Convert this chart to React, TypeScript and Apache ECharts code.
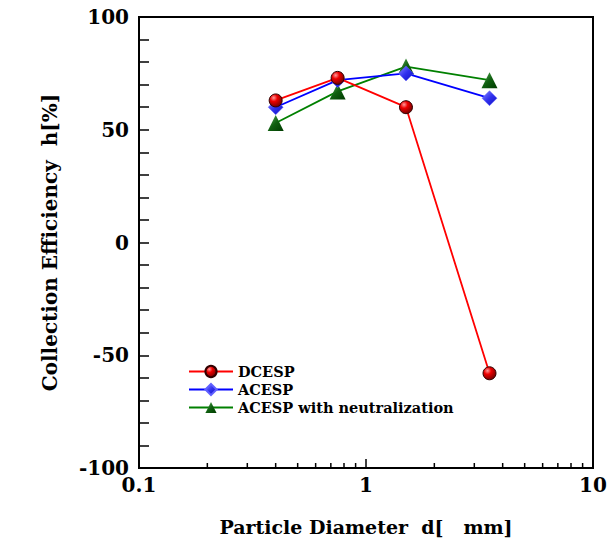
import React, { useEffect, useRef } from "react";
import * as echarts from "echarts";

const diameters = [0.4, 0.75, 1.5, 3.5];
const dcesp = [63, 73, 60, -58];
const acesp = [60, 72, 75, 64];
const acespNeutral = [53, 67, 78, 72];
const seriesNames = ["DCESP", "ACESP", "ACESP with neutralization"];
const minorXTicks = [0.2, 0.3, 0.4, 0.5, 0.6, 0.7, 0.8, 0.9, 2, 3, 4, 5, 6, 7, 8, 9];
const majorXTicks = [1];

const FONT = "DejaVu Serif";

export default function App() {
  const ref = useRef<HTMLDivElement>(null);
  useEffect(() => {
    if (!ref.current) return;
    const chart = echarts.init(ref.current, undefined, { renderer: "svg" });
    const pair = (ys: number[]) => diameters.map((x, i) => [x, ys[i]]);
    const tickSeries = (vals: number[], len: number) => ({
      type: "custom",
      silent: true,
      legendHoverLink: false,
      data: vals.map((v) => [v, -100]),
      renderItem: (params: any, api: any) => {
        const p = api.coord([api.value(0), -100]);
        return {
          type: "line",
          shape: { x1: p[0], y1: p[1], x2: p[0], y2: p[1] - len },
          style: { stroke: "#000", lineWidth: 1.5 },
        };
      },
      z: 1,
    });
    chart.setOption({
      animation: false,
      backgroundColor: "#fff",
      grid: {
        left: 139,
        top: 17,
        width: 454,
        height: 451,
        show: true,
        borderColor: "#000",
        borderWidth: 2,
        backgroundColor: "transparent",
      },
      legend: {
        left: 183,
        top: 359,
        orient: "vertical",
        itemWidth: 44,
        itemHeight: 14,
        itemGap: 3,
        data: seriesNames,
        textStyle: { fontFamily: FONT, fontWeight: "bold", fontSize: 14.5, color: "#000" },
      },
      xAxis: {
        type: "log",
        min: 0.1,
        max: 10,
        logBase: 10,
        name: "Particle Diameter  d[   mm]",
        nameLocation: "middle",
        nameGap: 49,
        nameTextStyle: { fontFamily: FONT, fontWeight: "bold", fontSize: 19, color: "#000" },
        axisLine: { show: true, onZero: false, lineStyle: { color: "#000", width: 2 } },
        axisTick: { show: false },
        splitLine: { show: false },
        minorTick: { show: false },
        axisLabel: {
          fontFamily: FONT,
          fontWeight: "bold",
          fontSize: 20,
          color: "#000",
          margin: 7,
          formatter: (v: number) => String(v),
        },
      },
      yAxis: {
        type: "value",
        min: -100,
        max: 100,
        interval: 50,
        name: "Collection Efficiency  h[%]",
        nameLocation: "middle",
        nameGap: 79,
        nameTextStyle: { fontFamily: FONT, fontWeight: "bold", fontSize: 20, color: "#000" },
        axisLine: { show: true, onZero: false, lineStyle: { color: "#000", width: 2 } },
        axisTick: { show: true, inside: true, length: 10, lineStyle: { color: "#000", width: 1.5 } },
        minorTick: { show: true, splitNumber: 5, length: 10, lineStyle: { color: "#000", width: 1.5 } },
        splitLine: { show: false },
        axisLabel: {
          fontFamily: FONT,
          fontWeight: "bold",
          fontSize: 20,
          color: "#000",
          margin: 10,
        },
      },
      series: [
        {
          name: seriesNames[0],
          type: "line",
          data: pair(dcesp),
          symbol: "circle",
          symbolSize: 13,
          lineStyle: { color: "#ff0000", width: 1.8 },
          itemStyle: {
            color: new echarts.graphic.RadialGradient(0.35, 0.3, 0.7, [
              { offset: 0, color: "#ff9a9a" },
              { offset: 0.4, color: "#ee0000" },
              { offset: 1, color: "#7a0000" },
            ]),
            borderColor: "#300000",
            borderWidth: 1,
          },
          z: 5,
        },
        {
          name: seriesNames[1],
          type: "line",
          data: pair(acesp),
          symbol: "diamond",
          symbolSize: 15,
          lineStyle: { color: "#0000ff", width: 1.8 },
          itemStyle: {
            color: new echarts.graphic.LinearGradient(0, 0, 1, 1, [
              { offset: 0, color: "#8a8aff" },
              { offset: 0.5, color: "#3030ee" },
              { offset: 1, color: "#1010c0" },
            ]),
            borderColor: "#6060ff",
            borderWidth: 0.5,
          },
          z: 4,
        },
        {
          name: seriesNames[2],
          type: "line",
          data: pair(acespNeutral),
          symbol: "triangle",
          symbolSize: 16,
          lineStyle: { color: "#008000", width: 1.8 },
          itemStyle: {
            color: new echarts.graphic.LinearGradient(0, 0, 1, 1, [
              { offset: 0, color: "#5fb05f" },
              { offset: 0.5, color: "#106010" },
              { offset: 1, color: "#003a00" },
            ]),
          },
          z: 3,
        },
        tickSeries(minorXTicks, 5),
        tickSeries(majorXTicks, 9),
      ],
    });
    return () => chart.dispose();
  }, []);
  return <div ref={ref} style={{ position: "fixed", left: 0, top: 0, width: 611, height: 547 }} />;
}
